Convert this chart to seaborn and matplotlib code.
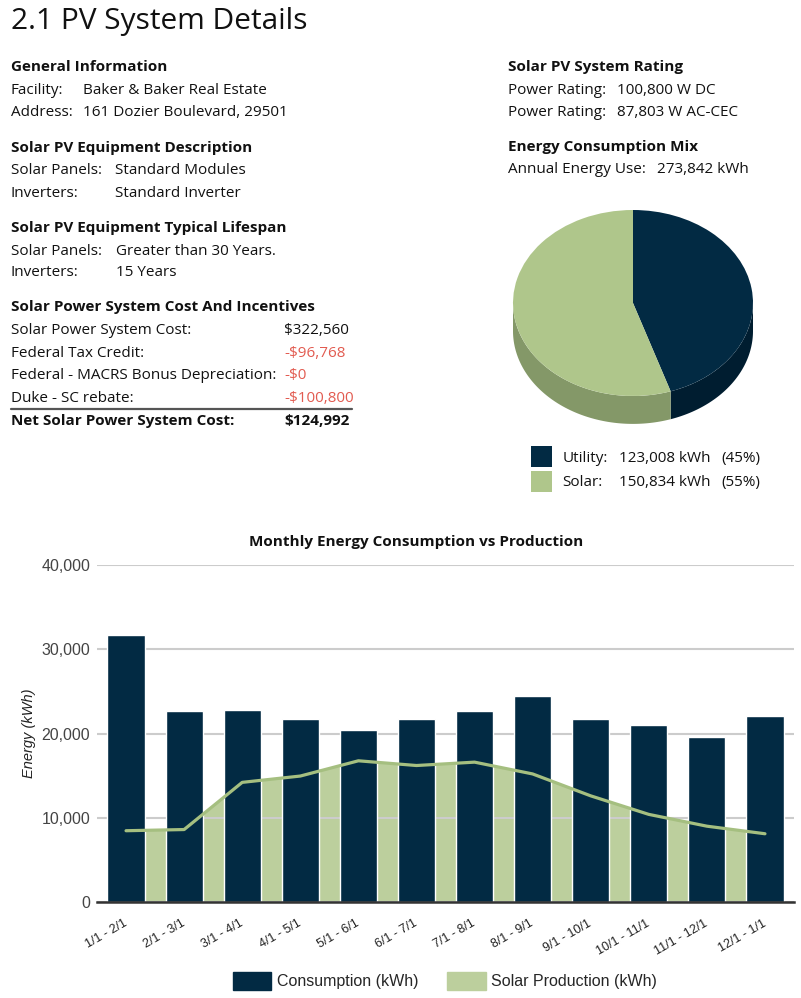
import numpy as np
import pandas as pd
import seaborn as sns
import matplotlib.pyplot as plt
from matplotlib.patches import Patch, Rectangle
from matplotlib.lines import Line2D

# dados do grafico mensal
periods = ['1/1 - 2/1', '2/1 - 3/1', '3/1 - 4/1', '4/1 - 5/1', '5/1 - 6/1', '6/1 - 7/1',
           '7/1 - 8/1', '8/1 - 9/1', '9/1 - 10/1', '10/1 - 11/1', '11/1 - 12/1', '12/1 - 1/1']
consumption = [31700, 22670, 22800, 21700, 20400, 21700, 22700, 24450, 21700, 21000, 19600, 22100]
solar = [8460, 8600, 14200, 14950, 16760, 16200, 16600, 15200, 12600, 10400, 9000, 8100]
y_ticks = [0, 10000, 20000, 30000, 40000]

# dados da pizza
mix_labels = ['Utility:', 'Solar:']
mix_kwh = [123008, 150834]

NAVY = '#022a43'
GREEN = '#afc68b'
AREA = '#bccf9d'
LINE = '#a5bf80'
SIDE = ['#001d30', '#849868']
TXT = '#111111'
RED = '#e25b50'

W, H = 801, 998

sns.set_style('white')
plt.rcParams['font.family'] = ['Open Sans', 'DejaVu Sans']

fig = plt.figure(figsize=(W / 100, H / 100), dpi=100)


def txt(x, y, s, bold=False, color=TXT, size=11, **kw):
    fig.text(x / W, 1 - y / H, s, fontsize=size, color=color,
             fontweight='bold' if bold else 'normal', va='baseline', ha='left', **kw)


#bloco de texto do topo
txt(11, 29.5, '2.1 PV System Details', size=21.5)

txt(11, 71, 'General Information', bold=True)
txt(11, 94.3, 'Facility:')
txt(83, 94.3, 'Baker & Baker Real Estate')
txt(11, 116, 'Address:')
txt(83, 116, '161 Dozier Boulevard, 29501')

txt(11, 151.7, 'Solar PV Equipment Description', bold=True)
txt(11, 174.3, 'Solar Panels:')
txt(115, 174.3, 'Standard Modules')
txt(11, 196.7, 'Inverters:')
txt(115, 196.7, 'Standard Inverter')

txt(11, 231.7, 'Solar PV Equipment Typical Lifespan', bold=True)
txt(11, 255, 'Solar Panels:')
txt(116, 255, 'Greater than 30 Years.')
txt(11, 276, 'Inverters:')
txt(116, 276, '15 Years')

txt(11, 310.7, 'Solar Power System Cost And Incentives', bold=True)
cost_rows = [('Solar Power System Cost:', '$322,560', TXT),
             ('Federal Tax Credit:', '-$96,768', RED),
             ('Federal - MACRS Bonus Depreciation:', '-$0', RED),
             ('Duke - SC rebate:', '-$100,800', RED)]
for i, (lab, val, col) in enumerate(cost_rows):
    yy = [334.3, 356.7, 378.7, 401.7][i]
    txt(11, yy, lab)
    txt(284, yy, val, color=col)
fig.add_artist(Line2D([11 / W, 352 / W], [1 - 408.5 / H, 1 - 408.5 / H], color='#555555', linewidth=1.6))
txt(11, 425, 'Net Solar Power System Cost:', bold=True)
txt(284, 425, '$124,992', bold=True)

txt(508, 70.7, 'Solar PV System Rating', bold=True)
txt(508, 94.3, 'Power Rating:')
txt(617, 94.3, '100,800 W DC')
txt(508, 116, 'Power Rating:')
txt(617, 116, '87,803 W AC-CEC')
txt(508, 151, 'Energy Consumption Mix', bold=True)
txt(508, 172.7, 'Annual Energy Use:')
txt(657, 172.7, '{:,} kWh'.format(sum(mix_kwh)))

#pizza 3d
pie_ax = fig.add_axes([483 / W, 1 - 442.5 / H, 300 / W, 255.75 / H])
pie_ax.pie(mix_kwh, colors=[NAVY, GREEN], startangle=90, counterclock=False,
           radius=1, wedgeprops=dict(linewidth=0))
pie_ax.set_aspect('auto')
pie_ax.set_xlim(-1.25, 1.25)
pie_ax.set_ylim(-1.5, 1.25)
pie_ax.axis('off')

depth = 0.3
fracs = np.array(mix_kwh) / np.sum(mix_kwh)
cum = np.concatenate([[0], np.cumsum(fracs)])
for i in range(len(mix_kwh)):
    a0 = 90 - cum[i] * 360
    a1 = 90 - cum[i + 1] * 360
    lo, hi = min(a0, a1), max(a0, a1)
    for blo, bhi in [(-180, 0), (-540, -360)]:
        s, e = max(lo, blo), min(hi, bhi)
        if e <= s:
            continue
        t = np.radians(np.linspace(s, e, 100))
        xs = np.cos(t)
        ys = np.sin(t)
        pie_ax.fill(np.concatenate([xs, xs[::-1]]), np.concatenate([ys, ys[::-1] - depth]),
                    color=SIDE[i], linewidth=0, zorder=0.5)

# legenda da pizza
for i, (lab, val) in enumerate(zip(mix_labels, mix_kwh)):
    y0 = [446, 471][i]
    fig.add_artist(Rectangle((531 / W, 1 - (y0 + 20.7) / H), 21.3 / W, 20.7 / H,
                             color=[NAVY, GREEN][i], linewidth=0))
    yb = [461.7, 486][i]
    txt(562.7, yb, lab)
    txt(619.3, yb, '{:,} kWh'.format(val))
    txt(721, yb, '({:.0f}%)'.format(100 * val / sum(mix_kwh)))

#grafico mensal
ax = fig.add_axes([97 / W, 1 - 902 / H, 697 / W, 337 / H])
df = pd.DataFrame({'Periodo': periods, 'Consumo': consumption, 'Solar': solar})
ax.fill_between(np.arange(len(periods)), df['Solar'], color=AREA, linewidth=0, zorder=0.2)
sns.barplot(x='Periodo', y='Consumo', data=df, color=NAVY, width=0.64, saturation=1, ax=ax, zorder=2)
sns.lineplot(x=np.arange(len(periods)), y=df['Solar'], color=LINE, linewidth=2.3, ax=ax, zorder=3)

ax.set_xlim(-0.5, len(periods) - 0.5)
ax.set_ylim(0, 40000)
ax.set_yticks(y_ticks)
ax.set_yticklabels(['{:,}'.format(v) for v in y_ticks], fontsize=11.5, color='#444444',
                   family=['Liberation Sans', 'DejaVu Sans'])
ax.set_xticks(np.arange(len(periods)))
ax.set_xticklabels(periods, rotation=30, ha='right', rotation_mode='anchor', va='center',
                   fontsize=9, color='#222222', family=['Liberation Sans', 'DejaVu Sans'])
ax.tick_params(axis='both', length=0)
ax.tick_params(axis='y', pad=5)
ax.tick_params(axis='x', pad=15)
ax.grid(axis='y', color='#cccccc', linewidth=1.5)
ax.set_axisbelow(True)
for sp in ['top', 'right', 'left']:
    ax.spines[sp].set_visible(False)
ax.spines['bottom'].set_color('#333333')
ax.spines['bottom'].set_linewidth(1.8)
ax.spines['bottom'].set_zorder(4)
ax.set_xlabel('')
ax.set_ylabel('Energy (kWh)', fontsize=10.5, style='italic', color='#222222',
              family=['Liberation Sans', 'DejaVu Sans'], labelpad=4)

fig.text(416 / W, 1 - 542 / H, 'Monthly Energy Consumption vs Production', ha='center', va='center',
         fontsize=11, fontweight='bold', color=TXT)

handles = [Patch(color=NAVY), Patch(color=AREA)]
fig.legend(handles, ['Consumption (kWh)', 'Solar Production (kWh)'], loc='center',
           bbox_to_anchor=(445 / W, 17 / H), ncol=2, frameon=False, handlelength=2.4,
           handleheight=1.3, columnspacing=1.8, handletextpad=0.35,
           prop={'family': ['Liberation Sans', 'DejaVu Sans'], 'size': 11.5})

fig.savefig('out.png', dpi=100)
